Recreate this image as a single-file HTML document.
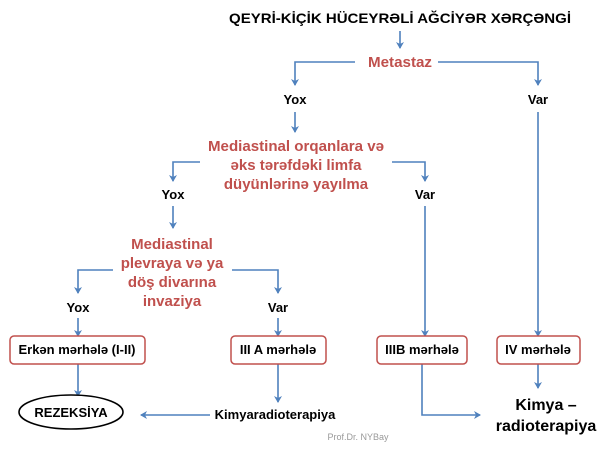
<!DOCTYPE html>
<html><head><meta charset="utf-8"><style>
body{margin:0;background:#fff;width:600px;height:450px;overflow:hidden}
text{font-family:"Liberation Sans",sans-serif;font-weight:bold}
.r{fill:#c0504d;font-size:15px}
.k{fill:#000;font-size:13px}
</style></head><body>
<svg width="600" height="450" viewBox="0 0 600 450">
<defs><marker id="a" markerWidth="8" markerHeight="8" refX="6" refY="4" orient="auto" markerUnits="userSpaceOnUse"><path d="M0,0 L7,4 L0,8 L2,4z" fill="#4f81bd"/></marker></defs>
<g stroke="#4f81bd" stroke-width="1.6" fill="none" marker-end="url(#a)">
<path d="M400,31 V48"/>
<path d="M355,62 H295 V85"/>
<path d="M438,62 H538 V85"/>
<path d="M295,112 V132"/>
<path d="M200,162 H173 V181"/>
<path d="M392,162 H425 V181"/>
<path d="M173,206 V228"/>
<path d="M113,270 H78 V293"/>
<path d="M232,270 H278 V293"/>
<path d="M78,318 V336"/>
<path d="M278,318 V336"/>
<path d="M425,206 V336"/>
<path d="M538,112 V336"/>
<path d="M78,364 V396"/>
<path d="M278,364 V402"/>
<path d="M210,415 H141"/>
<path d="M422,364 V415 H480"/>
<path d="M538,364 V388"/>
</g>
<text x="400" y="23" text-anchor="middle" font-size="14" textLength="342" lengthAdjust="spacingAndGlyphs">QEYRİ-KİÇİK HÜCEYRƏLİ AĞCİYƏR XƏRÇƏNGİ</text>
<text class="r" x="400" y="67" text-anchor="middle" textLength="64" lengthAdjust="spacingAndGlyphs">Metastaz</text>
<text class="k" x="295" y="104" text-anchor="middle">Yox</text>
<text class="k" x="538" y="104" text-anchor="middle">Var</text>
<text class="r" x="296" y="151" text-anchor="middle" textLength="176" lengthAdjust="spacingAndGlyphs">Mediastinal orqanlara və</text>
<text class="r" x="296" y="170" text-anchor="middle">əks tərəfdəki limfa</text>
<text class="r" x="296" y="189" text-anchor="middle">düyünlərinə yayılma</text>
<text class="k" x="173" y="199" text-anchor="middle">Yox</text>
<text class="k" x="425" y="199" text-anchor="middle">Var</text>
<text class="r" x="172" y="249" text-anchor="middle">Mediastinal</text>
<text class="r" x="172" y="268" text-anchor="middle">plevraya və ya</text>
<text class="r" x="172" y="287" text-anchor="middle">döş divarına</text>
<text class="r" x="172" y="306" text-anchor="middle">invaziya</text>
<text class="k" x="78" y="312" text-anchor="middle">Yox</text>
<text class="k" x="278" y="312" text-anchor="middle">Var</text>
<g fill="#fff" stroke="#c0504d" stroke-width="1.5">
<rect x="10" y="336" width="135" height="28" rx="4"/>
<rect x="231" y="336" width="95" height="28" rx="4"/>
<rect x="377" y="336" width="90" height="28" rx="4"/>
<rect x="497" y="336" width="83" height="28" rx="4"/>
</g>
<text class="k" x="77" y="354" text-anchor="middle" font-size="12">Erkən mərhələ (I-II)</text>
<text class="k" x="278" y="354" text-anchor="middle" font-size="12">III A mərhələ</text>
<text class="k" x="422" y="354" text-anchor="middle" font-size="12">IIIB mərhələ</text>
<text class="k" x="538" y="354" text-anchor="middle" font-size="12">IV mərhələ</text>
<ellipse cx="71" cy="412" rx="52" ry="17" fill="#fff" stroke="#000" stroke-width="1.6"/>
<text class="k" x="71" y="417" text-anchor="middle" font-size="13">REZEKSİYA</text>
<text class="k" x="275" y="419" text-anchor="middle" font-size="12">Kimyaradioterapiya</text>
<text x="546" y="410" text-anchor="middle" font-size="16">Kimya –</text>
<text x="546" y="431" text-anchor="middle" font-size="16">radioterapiya</text>
<text x="358" y="440" text-anchor="middle" font-size="9" fill="#999" style="font-weight:normal">Prof.Dr. NYBay</text>
</svg>
</body></html>
